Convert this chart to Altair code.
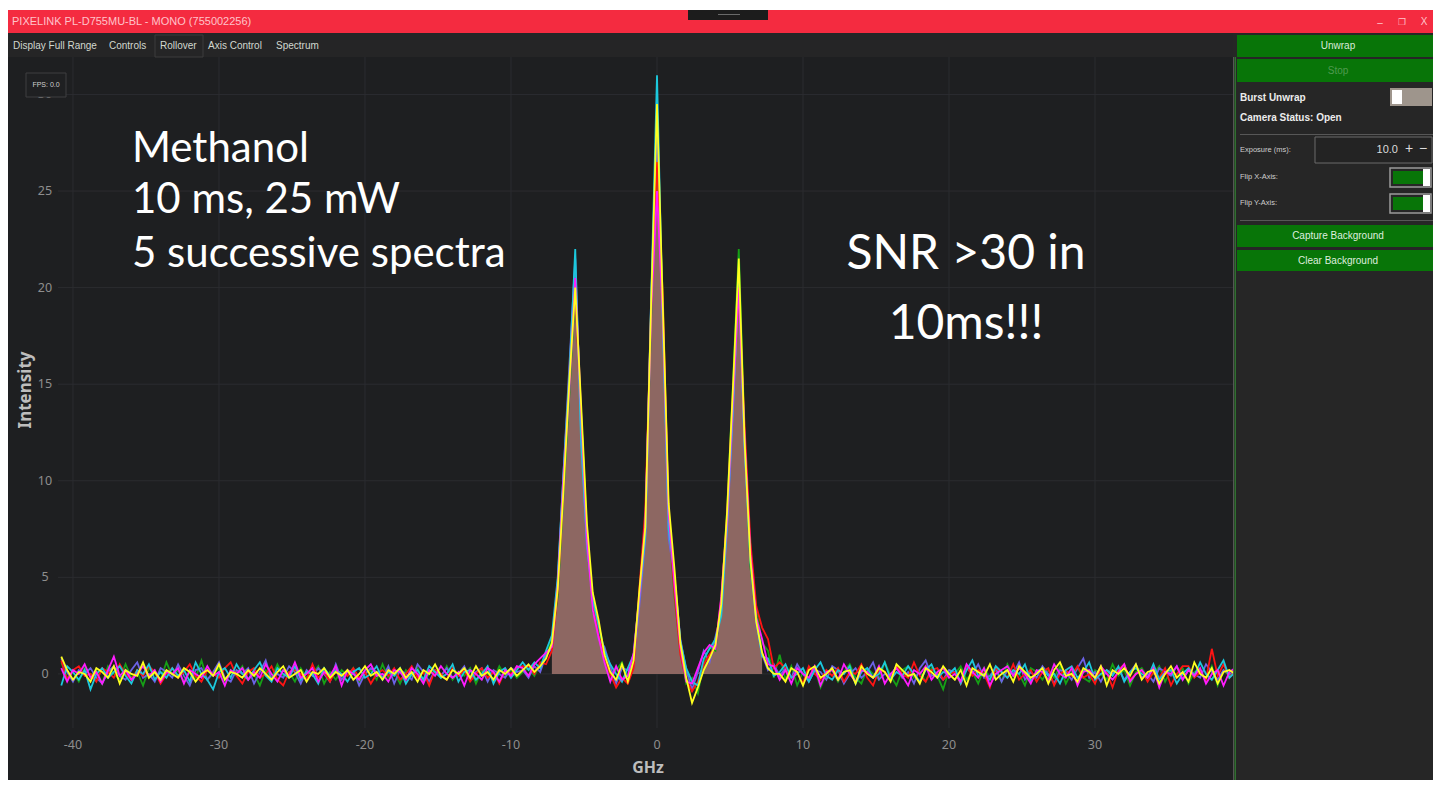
import altair as alt
import pandas as pd

# ---------------- data ----------------
GHZ = [
    -40.8, -40.4, -40.0, -39.6, -39.2, -38.8, -38.4, -38.0, -37.6, -37.2,
    -36.8, -36.4, -36.0, -35.6, -35.2, -34.8, -34.4, -34.0, -33.6, -33.2,
    -32.8, -32.4, -32.0, -31.6, -31.2, -30.8, -30.4, -30.0, -29.6, -29.2,
    -28.8, -28.4, -28.0, -27.6, -27.2, -26.8, -26.4, -26.0, -25.6, -25.2,
    -24.8, -24.4, -24.0, -23.6, -23.2, -22.8, -22.4, -22.0, -21.6, -21.2,
    -20.8, -20.4, -20.0, -19.6, -19.2, -18.8, -18.4, -18.0, -17.6, -17.2,
    -16.8, -16.4, -16.0, -15.6, -15.2, -14.8, -14.4, -14.0, -13.6, -13.2,
    -12.8, -12.4, -12.0, -11.6, -11.2, -10.8, -10.4, -10.0, -9.6, -9.2,
    -8.8, -8.4, -8.0, -7.6, -7.2, -6.8, -6.4, -6.0, -5.6, -5.2,
    -4.8, -4.4, -4.0, -3.6, -3.2, -2.8, -2.4, -2.0, -1.6, -1.2,
    -0.8, -0.4, 0.0, 0.4, 0.8, 1.2, 1.6, 2.0, 2.4, 2.8,
    3.2, 3.6, 4.0, 4.4, 4.8, 5.2, 5.6, 6.0, 6.4, 6.8,
    7.2, 7.6, 8.0, 8.4, 8.8, 9.2, 9.6, 10.0, 10.4, 10.8,
    11.2, 11.6, 12.0, 12.4, 12.8, 13.2, 13.6, 14.0, 14.4, 14.8,
    15.2, 15.6, 16.0, 16.4, 16.8, 17.2, 17.6, 18.0, 18.4, 18.8,
    19.2, 19.6, 20.0, 20.4, 20.8, 21.2, 21.6, 22.0, 22.4, 22.8,
    23.2, 23.6, 24.0, 24.4, 24.8, 25.2, 25.6, 26.0, 26.4, 26.8,
    27.2, 27.6, 28.0, 28.4, 28.8, 29.2, 29.6, 30.0, 30.4, 30.8,
    31.2, 31.6, 32.0, 32.4, 32.8, 33.2, 33.6, 34.0, 34.4, 34.8,
    35.2, 35.6, 36.0, 36.4, 36.8, 37.2, 37.6, 38.0, 38.4, 38.8,
    39.2, 39.6,
]

# green spectrum
GREEN_LEFT = [
    0.6, -0.2, 0.1, -0.4, 0.3, -0.1, 0.2, -0.5, 0.4, 0.0,
    -0.3, 0.5, -0.2, 0.1, -0.6, 0.3, 0.0, -0.3, 0.6, -0.1,
    0.2, -0.4, 0.1, -0.2, 0.7, -0.3, 0.0, 0.3, -0.5, 0.2,
    -0.1, 0.4, -0.3, 0.0, -0.6, 0.2, -0.2, 0.5, -0.1, 0.1,
    -0.4, 0.3, -0.2, 0.0, 0.4, -0.5, 0.1, -0.3, 0.2, -0.1,
    0.3, -0.4, 0.0, 0.2, -0.3, 0.5, -0.2, 0.1, -0.5, 0.2,
    -0.1, 0.3, -0.4, 0.0, 0.2, -0.2, 0.4, -0.3, 0.1, -0.1,
    0.3, -0.5, 0.2, 0.0, -0.3, 0.4, -0.1, 0.2, -0.2, 0.1,
]
GREEN_PEAK = [
    0.3, -0.1, 0.5, 0.9, 1.8, 4.0, 9.5, 14.5, 20.0, 13.5,
    7.5, 3.2, 2.6, 0.7, -0.3, 0.2, 0.6, -0.2, 0.9, 4.2,
    8.0, 18.5, 27.0, 19.5, 8.0, 4.0, 1.2, -0.5, -0.2, -1.0,
    0.6, 1.4, 1.2, 3.8, 8.5, 15.0, 22.0, 12.5, 5.5, 3.3,
    1.6, 1.2, -0.2,
]
GREEN_RIGHT = [
    1.0, -0.3, 0.4, -0.6, 0.1, -0.2, 0.3, -0.7, 0.0, 0.2,
    -0.4, 0.1, 0.5, -0.2, -0.5, 0.3, 0.0, -0.3, 0.6, -0.1,
    -0.6, 0.2, 0.4, -0.2, 0.1, -0.4, 0.3, -0.1, -0.8, 0.2,
    0.0, 0.4, -0.3, 0.1, -0.5, 0.3, -0.2, 0.2, -0.4, 0.5,
    -0.1, 0.0, -0.6, 0.3, 0.1, -0.3, 0.2, -0.2, 0.4, -0.5,
    0.1, 0.3, -0.2, -0.4, 0.2, 0.0, -0.3, 0.5, -0.1, 0.2,
    -0.6, 0.1, 0.3, -0.2, 0.0, 0.4, -0.4, 0.2, -0.1, 0.3,
    -0.5, 0.1, 0.2, -0.3, 0.4, -0.6, 0.2, -0.1, 0.1,
]

# blue-violet spectrum
BLUE_LEFT = [
    0.8, 0.1, -0.4, 0.2, 0.0, 0.3, -0.2, -0.5, 0.1, 0.4,
    -0.1, -0.3, 0.2, 0.6, -0.2, 0.0, -0.4, 0.3, 0.1, -0.2,
    0.5, -0.1, -0.6, 0.2, 0.3, -0.3, 0.1, 0.6, -0.2, -0.4,
    0.2, 0.0, 0.3, -0.5, 0.1, 0.7, -0.3, 0.0, -0.2, 0.4,
    0.1, -0.5, 0.2, -0.1, 0.3, 0.0, -0.4, 0.5, -0.3, 0.1,
    0.2, -0.6, 0.0, 0.3, 0.1, -0.2, 0.4, -0.5, 0.2, 0.0,
    -0.3, 0.5, 0.1, -0.4, 0.2, -0.1, 0.3, -0.2, 0.0, 0.4,
    -0.3, 0.1, 0.3, -0.4, 0.2, 0.0, -0.2, 0.3, 0.1, 0.2,
]
BLUE_PEAK = [
    -0.2, 0.4, 0.1, 1.0, 1.3, 4.8, 10.5, 16.0, 21.5, 12.5,
    6.5, 4.0, 1.8, 1.4, 0.4, -0.5, 0.3, 0.2, 0.5, 3.6,
    7.0, 19.5, 28.0, 18.5, 7.0, 5.0, 1.8, 0.2, -0.8, 0.1,
    1.2, 0.6, 1.9, 3.2, 7.5, 13.5, 20.5, 11.5, 6.5, 2.6,
    1.0, 0.2, 0.5,
]
BLUE_RIGHT = [
    -0.1, 0.3, -0.2, 0.5, 0.0, -0.4, 0.2, 0.1, -0.3, 0.4,
    0.2, -0.5, 0.0, 0.3, -0.2, 0.1, 0.6, -0.3, 0.0, -0.1,
    0.4, -0.2, 0.1, -0.5, 0.3, 0.7, -0.1, 0.0, -0.3, 0.2,
    0.1, -0.4, 0.3, 0.0, 0.5, -0.2, -0.1, 0.3, -0.4, 0.2,
    0.0, 0.6, -0.3, 0.1, -0.2, 0.4, 0.0, -0.5, 0.2, 0.1,
    -0.3, 0.3, 0.8, -0.2, 0.1, -0.4, 0.2, 0.0, 0.3, -0.3,
    0.1, 0.5, -0.2, 0.0, -0.4, 0.3, 0.1, -0.1, 0.4, -0.3,
    0.2, 0.0, -0.2, 0.5, 0.1, -0.3, 0.2, 0.0, 0.1,
]

# red spectrum
RED_LEFT = [
    0.7, -0.3, 0.2, 0.4, -0.1, 0.0, -0.4, 0.3, 0.1, -0.2,
    0.5, 0.0, -0.3, 0.2, -0.1, 0.4, 0.1, -0.5, 0.0, 0.3,
    -0.2, 0.1, 0.5, -0.1, -0.4, 0.2, 0.0, -0.2, 0.3, 0.6,
    -0.1, -0.5, 0.1, 0.3, -0.2, 0.0, 0.4, -0.3, -0.6, 0.1,
    0.2, 0.0, -0.3, 0.5, -0.2, 0.1, -0.4, 0.2, 0.0, -0.1,
    0.3, -0.2, 0.1, -0.5, 0.0, 0.2, -0.1, 0.3, -0.3, 0.0,
    0.4, -0.2, 0.1, -0.6, 0.2, 0.0, -0.3, 0.3, -0.1, 0.2,
    -0.4, 0.0, 0.3, -0.2, 0.1, -0.5, 0.2, 0.0, 0.3, 0.4,
]
RED_PEAK = [
    0.4, 0.0, 0.6, 0.5, 1.2, 4.3, 9.8, 15.5, 20.0, 13.0,
    7.2, 3.6, 2.0, 0.9, 0.0, -0.7, -0.2, -0.5, 0.3, 4.5,
    8.5, 19.0, 26.5, 19.5, 8.0, 4.2, 1.0, -0.3, -0.9, -0.4,
    0.5, 1.0, 1.4, 3.9, 8.2, 14.5, 20.0, 12.8, 6.8, 3.5,
    2.4, 1.8, 0.3,
]
RED_RIGHT = [
    0.6, 0.3, -0.2, 0.1, -0.5, 0.4, 0.0, -0.3, 0.2, -0.1,
    0.3, -0.4, 0.1, 0.0, 0.5, -0.2, -0.6, 0.2, 0.1, -0.3,
    0.4, 0.0, -0.2, 0.6, -0.1, -0.4, 0.2, 0.3, -0.3, 0.0,
    0.1, -0.5, 0.4, -0.1, 0.2, 0.0, -0.7, 0.3, 0.1, -0.2,
    0.5, -0.3, 0.0, 0.2, -0.4, 0.1, 0.3, -0.6, 0.0, 0.2,
    -0.1, 0.4, -0.2, 0.0, -0.5, 0.3, 0.1, -0.7, 0.2, 0.5,
    -0.3, 0.0, 0.2, -0.4, 0.1, -0.2, 0.3, -0.6, 0.0, 0.4,
    0.4, -0.2, 0.1, -0.3, 1.3, -0.1, 0.5, -0.2, 0.2,
]

# cyan spectrum
CYAN_LEFT = [
    -0.6, 0.4, 0.1, -0.3, 0.2, -0.8, 0.0, 0.3, -0.2, 0.1,
    0.4, -0.1, -0.5, 0.2, 0.0, 0.5, -0.3, 0.1, -0.2, 0.3,
    -0.1, 0.2, -0.4, 0.6, 0.0, -0.3, -0.8, 0.1, 0.3, -0.2,
    0.5, 0.0, -0.3, 0.2, 0.6, -0.1, -0.4, 0.3, 0.0, -0.2,
    0.4, -0.3, 0.1, 0.0, -0.5, 0.3, -0.1, 0.2, 0.0, -0.4,
    0.1, 0.3, -0.2, 0.0, 0.4, -0.3, 0.1, -0.1, 0.3, -0.5,
    0.0, 0.2, -0.3, 0.4, 0.1, -0.2, 0.0, 0.5, -0.4, 0.1,
    0.2, -0.3, 0.0, 0.4, -0.5, 0.1, 0.3, -0.2, 0.2, 0.6,
]
CYAN_PEAK = [
    0.2, 0.6, 0.3, 1.2, 2.0, 5.0, 10.5, 15.5, 22.0, 12.0,
    6.8, 3.8, 2.5, 1.2, 0.5, 0.0, -0.4, 0.3, 1.0, 4.0,
    7.2, 19.5, 31.0, 18.0, 7.5, 5.0, 1.7, 0.3, -0.4, -0.6,
    0.8, 1.3, 1.8, 3.0, 7.8, 13.8, 20.5, 11.8, 5.8, 2.8,
    0.9, 0.8, -0.1,
]
CYAN_RIGHT = [
    0.1, 0.5, -0.2, 0.0, 0.3, -0.4, 0.2, 0.6, -0.1, -0.3,
    0.2, 0.0, 0.4, -0.5, 0.1, 0.3, -0.2, 0.0, 0.6, -0.3,
    0.1, -0.1, 0.4, 0.0, -0.4, 0.2, 0.5, -0.2, 0.1, 0.0,
    0.3, -0.5, 0.2, 0.7, -0.1, 0.0, -0.3, 0.4, 0.1, -0.2,
    0.2, 0.0, 0.5, -0.4, 0.1, 0.3, -0.1, 0.0, -0.5, 0.2,
    0.4, -0.2, 0.1, 0.6, -0.3, 0.0, 0.2, -0.1, 0.4, -0.4,
    0.1, 0.3, 0.0, -0.2, 0.5, -0.3, 0.1, 0.2, -0.5, 0.0,
    0.3, -0.1, 0.6, 0.0, -0.3, 0.2, 0.7, -0.2, 0.1,
]

# magenta spectrum
MAGENTA_LEFT = [
    0.3, -0.4, 0.2, 0.0, 0.5, -0.2, 0.1, -0.5, 0.2, 0.9,
    -0.1, 0.2, -0.3, 0.0, 0.4, -0.1, 0.2, -0.4, 0.1, 0.0,
    0.3, -0.5, 0.2, 0.0, -0.2, 0.4, -0.1, 0.1, -0.6, 0.2,
    0.0, 0.3, -0.3, 0.1, -0.2, 0.5, 0.0, -0.4, 0.2, -0.1,
    0.6, -0.2, 0.0, 0.3, -0.4, 0.1, -0.1, 0.4, -0.6, 0.2,
    0.0, -0.3, 0.2, 0.5, -0.1, 0.0, -0.4, 0.2, 0.1, -0.3,
    0.3, 0.0, -0.5, 0.2, -0.1, 0.4, 0.0, -0.2, 0.1, -0.6,
    0.2, 0.0, -0.3, 0.3, 0.1, -0.4, 0.2, -0.1, 0.4, 0.3,
]
MAGENTA_PEAK = [
    -0.1, 0.5, 0.8, 1.1, 1.4, 4.6, 10.2, 14.8, 20.5, 13.6,
    7.0, 3.3, 1.9, 0.6, -0.4, 0.4, -0.3, -0.1, 1.1, 4.1,
    7.8, 18.8, 25.0, 18.5, 8.3, 4.6, 1.4, -0.4, -0.5, 0.3,
    1.1, 1.5, 1.3, 4.0, 8.0, 14.2, 20.0, 12.2, 6.2, 2.9,
    1.8, 0.5, 0.4,
]
MAGENTA_RIGHT = [
    -0.3, 0.2, -0.5, 0.3, 0.0, -0.2, 0.4, -0.6, 0.1, 0.2,
    -0.3, 0.5, 0.0, -0.4, 0.2, 0.1, -0.2, 0.4, -0.5, 0.0,
    0.3, -0.1, -0.6, 0.2, 0.0, 0.4, -0.3, 0.1, 0.3, -0.2,
    0.0, -0.4, 0.5, 0.1, -0.2, 0.3, -0.6, 0.0, 0.2, 0.4,
    -0.1, 0.3, 0.0, -0.5, 0.2, 0.1, -0.3, 0.5, 0.0, -0.2,
    0.3, -0.6, 0.1, 0.2, -0.2, 0.4, 0.0, -0.3, 0.1, 0.5,
    -0.4, 0.0, 0.2, -0.2, 0.3, -0.7, 0.1, 0.0, 0.4, -0.3,
    0.2, -0.1, 0.3, -0.5, 0.0, 0.2, -0.6, 0.1, 0.3,
]

# yellow spectrum
YELLOW_LEFT = [
    0.9, 0.2, -0.3, 0.1, 0.0, -0.4, 0.3, 0.1, -0.2, 0.4,
    -0.5, 0.2, 0.0, -0.1, 0.6, -0.2, 0.1, -0.3, 0.2, 0.0,
    -0.2, 0.3, 0.1, -0.4, 0.0, 0.2, -0.1, 0.5, -0.3, 0.1,
    0.0, -0.2, 0.2, -0.1, 0.3, 0.0, -0.3, 0.1, 0.4, -0.2,
    0.0, 0.2, -0.4, 0.1, 0.0, 0.3, -0.2, 0.1, -0.1, 0.2,
    -0.3, 0.0, 0.4, -0.1, 0.1, -0.3, 0.2, 0.0, 0.3, -0.2,
    0.1, -0.4, 0.2, 0.0, 0.5, -0.1, -0.3, 0.2, 0.0, 0.3,
    -0.2, 0.4, -0.1, 0.1, -0.3, 0.2, 0.0, 0.3, -0.1, 0.2,
]
YELLOW_PEAK = [
    0.5, 0.1, 0.4, 0.8, 1.6, 4.4, 9.6, 15.2, 20.0, 14.0,
    7.8, 4.2, 2.8, 1.0, 0.1, -0.3, 0.5, -0.4, 0.7, 4.4,
    7.6, 19.2, 29.5, 19.0, 8.8, 5.4, 1.6, -0.2, -1.5, -0.7,
    0.2, 0.8, 1.5, 3.6, 8.4, 14.8, 21.5, 12.0, 5.9, 2.7,
    1.1, 0.3, 0.0,
]
YELLOW_RIGHT = [
    0.0, -0.4, 0.3, 0.1, -0.6, 0.2, 0.4, -0.2, 0.0, 0.3,
    -0.3, 0.1, 0.2, -0.5, 0.4, 0.0, -0.2, 0.3, 0.1, -0.4,
    0.5, 0.2, -0.1, 0.0, -0.5, 0.3, 0.1, -0.2, 0.4, 0.0,
    -0.3, 0.2, -0.6, 0.3, 0.1, -0.1, 0.5, -0.3, 0.0, 0.2,
    -0.4, 0.4, 0.1, -0.2, 0.0, 0.3, -0.5, 0.2, 0.6, -0.1,
    0.0, -0.4, 0.3, 0.1, -0.2, 0.4, -0.6, 0.2, 0.0, 0.3,
    -0.1, 0.5, -0.3, 0.1, 0.2, -0.5, 0.0, 0.4, -0.2, 0.1,
    -0.4, 0.6, 0.0, -0.2, 0.3, -0.5, 0.1, 0.2, 0.0,
]

# shaded peak area
FILL_GHZ = [
    -7.2, -6.8, -6.4, -6.0, -5.6, -5.2, -4.8, -4.4, -4.0,
    -3.6, -3.2, -2.8, -2.4, -2.0, -1.6, -1.2, -0.8, -0.4,
    0.0,
    0.4, 0.8, 1.2, 1.6, 2.0, 2.4, 2.8, 3.2, 3.6,
    4.0, 4.4, 4.8, 5.2, 5.6, 6.0, 6.4, 6.8, 7.2,
]
FILL_INTENSITY = [
    1.5, 4.3, 9.8, 14.8, 20.0, 12.8, 6.9, 3.5, 2.1,
    0.8, 0.1, 0.0, 0.0, 0.0, 0.5, 3.9, 7.4, 18.6,
    27.0,
    18.6, 7.6, 4.4, 1.4, 0.0, 0.0, 0.0, 0.4, 0.9,
    1.5, 3.4, 7.9, 14.2, 20.0, 12.0, 6.0, 2.9, 1.2,
]

X_TICKS = [-40, -30, -20, -10, 0, 10, 20, 30]
Y_TICKS = [0, 5, 10, 15, 20, 25, 30]

SERIES = [
    ("green", "#16a016", GREEN_LEFT + GREEN_PEAK + GREEN_RIGHT),
    ("blue", "#6c62e6", BLUE_LEFT + BLUE_PEAK + BLUE_RIGHT),
    ("red", "#ff1414", RED_LEFT + RED_PEAK + RED_RIGHT),
    ("cyan", "#1cc8dc", CYAN_LEFT + CYAN_PEAK + CYAN_RIGHT),
    ("magenta", "#ff1cff", MAGENTA_LEFT + MAGENTA_PEAK + MAGENTA_RIGHT),
    ("yellow", "#ffff1e", YELLOW_LEFT + YELLOW_PEAK + YELLOW_RIGHT),
]
for name, _, vals in SERIES:
    if len(vals) != len(GHZ):
        raise ValueError(f"{name}: {len(vals)} values for {len(GHZ)} positions")
if len(FILL_GHZ) != len(FILL_INTENSITY):
    raise ValueError("fill lengths differ")

# ---------------- scales (pixel ranges inside the window picture) ----------------
XS = alt.Scale(domain=[-40.8, 39.45], range=[53.3, 1225], nice=False, zero=False)
YS = alt.Scale(domain=[-2.8, 31.94], range=[720, 49], nice=False, zero=False)

ONE = pd.DataFrame({"k": [0]})


def box(x, y, x2, y2, fill, stroke=None, sw=1.0, hollow=False):
    kw = {"fill": fill}
    if hollow:
        kw["fillOpacity"] = 0
    if stroke:
        kw["stroke"] = stroke
        kw["strokeWidth"] = sw
    return alt.Chart(ONE).mark_rect(**kw).encode(
        x=alt.value(x), x2=alt.value(x2), y=alt.value(y), y2=alt.value(y2)
    )


def label(s, x, y, size, color, align="left", weight="normal",
          font="Liberation Sans", baseline="middle", angle=0):
    return alt.Chart(ONE).mark_text(
        text=s, fontSize=size, color=color, align=align, fontWeight=weight,
        font=font, baseline=baseline, angle=angle,
    ).encode(x=alt.value(x), y=alt.value(y))


layers = []

# grid
layers.append(
    alt.Chart(pd.DataFrame({"v": X_TICKS})).mark_rule(color="#2b2c30", strokeWidth=1).encode(
        x=alt.X("v:Q", scale=XS, axis=None), y=alt.value(49), y2=alt.value(720))
)
layers.append(
    alt.Chart(pd.DataFrame({"v": Y_TICKS})).mark_rule(color="#2b2c30", strokeWidth=1).encode(
        y=alt.Y("v:Q", scale=YS, axis=None), x=alt.value(50), x2=alt.value(1225))
)

# shaded area under peaks
fill_df = pd.DataFrame({"x": FILL_GHZ, "y": FILL_INTENSITY, "base": [0.0] * len(FILL_GHZ)})
layers.append(
    alt.Chart(fill_df).mark_area(color="#8d6762", opacity=1, interpolate="linear").encode(
        x=alt.X("x:Q", scale=XS, axis=None),
        y=alt.Y("y:Q", scale=YS, axis=None),
        y2="base:Q",
    )
)

# spectra
for name, col, vals in SERIES:
    df = pd.DataFrame({"x": GHZ, "y": vals, "k": list(range(len(GHZ)))})
    layers.append(
        alt.Chart(df).mark_line(color=col, strokeWidth=1.8, interpolate="linear").encode(
            x=alt.X("x:Q", scale=XS, axis=None),
            y=alt.Y("y:Q", scale=YS, axis=None),
            order="k:Q",
        )
    )

# tick labels
layers.append(
    alt.Chart(pd.DataFrame({"v": X_TICKS, "t": [str(v) for v in X_TICKS]})).mark_text(
        fontSize=12.5, color="#8e8e8e", font="Noto Sans", baseline="middle", align="center"
    ).encode(x=alt.X("v:Q", scale=XS, axis=None), y=alt.value(737), text="t:N")
)
layers.append(
    alt.Chart(pd.DataFrame({"v": Y_TICKS, "t": [str(v) for v in Y_TICKS]})).mark_text(
        fontSize=12.5, color="#8e8e8e", font="Noto Sans", baseline="middle", align="center"
    ).encode(y=alt.Y("v:Q", scale=YS, axis=None), x=alt.value(37), text="t:N")
)

# axis titles
layers.append(label("Intensity", 18, 382, 17, "#bdbdbd", align="center", weight="bold",
                    font="Noto Sans", angle=270))
layers.append(label("GHz", 640, 760, 16, "#bdbdbd", align="center", weight="bold", font="Noto Sans"))

# annotations
for txt, yb in [("Methanol", 154), ("10 ms, 25 mW", 205), ("5 successive spectra", 259)]:
    layers.append(label(txt, 124, yb, 42, "#ffffff", font="Lato", baseline="alphabetic"))
layers.append(label("SNR >30 in", 958, 261, 48, "#ffffff", align="center", font="Lato",
                    baseline="alphabetic"))
layers.append(label("10ms!!!", 958, 331, 48, "#ffffff", align="center", font="Lato",
                    baseline="alphabetic"))

# FPS box
layers.append(box(18, 65, 58, 89, "#1f2022", stroke="#3e3e40", sw=1))
layers.append(label("FPS: 0.0", 38, 77, 7, "#cfcfcf", align="center"))

# title bar
layers.append(box(0, 0, 1425, 2, "#ffffff"))
layers.append(box(0, 2, 1425, 25, "#f42b40"))
layers.append(box(680, 2, 760, 12, "#1c1c1c"))
layers.append(box(710, 6, 732, 7, "#6a6a6a"))
layers.append(label("PIXELINK PL-D755MU-BL - MONO (755002256)", 4, 14, 11, "#ffc3ca"))
layers.append(label("\u2013", 1372, 15, 10, "#ffc3ca", align="center"))
layers.append(label("\u2750", 1394, 14, 9, "#ffc3ca", align="center", font="DejaVu Sans"))
layers.append(label("X", 1416, 14, 10, "#ffc3ca", align="center"))

# toolbar
layers.append(box(0, 25, 1225, 49, "#252526"))
layers.append(box(147, 27, 195, 49, "#252526", stroke="#3c3c3c", sw=1, hollow=True))
for txt, xx in [("Display Full Range", 5), ("Controls", 101), ("Rollover", 152),
                ("Axis Control", 200), ("Spectrum", 268)]:
    layers.append(label(txt, xx, 38, 10, "#d2d8cf"))

# right control panel
layers.append(box(1225, 25, 1425, 773, "#262626"))
layers.append(box(1225, 49, 1226, 773, "#555555"))
layers.append(box(1226.5, 49, 1228, 773, "#2f6f2f"))
layers.append(box(1229, 27, 1425, 49, "#087508"))
layers.append(label("Unwrap", 1330, 38, 10, "#d9ead9", align="center"))
layers.append(box(1229, 51, 1425, 74, "#087508"))
layers.append(label("Stop", 1330, 63, 10, "#4f9a4f", align="center"))
layers.append(label("Burst Unwrap", 1232, 90, 10, "#ececec", weight="bold"))
layers.append(box(1382, 80, 1424, 98, "#9e958c"))
layers.append(box(1384, 82, 1394, 96, "#ffffff"))
layers.append(label("Camera Status:  Open", 1232, 110, 10, "#ececec", weight="bold"))
layers.append(box(1232, 126, 1425, 127, "#575757"))
layers.append(label("Exposure (ms):", 1232, 142, 7.5, "#cfcfcf"))
layers.append(box(1307, 129, 1424, 155, "#232323", stroke="#6a6a6a", sw=1))
layers.append(label("10.0", 1390, 142, 11, "#dcdcdc", align="right"))
layers.append(label("+", 1401, 141, 14, "#dcdcdc", align="center"))
layers.append(label("\u2212", 1415, 141, 14, "#dcdcdc", align="center"))
for txt, yy in [("Flip X-Axis:", 169), ("Flip Y-Axis:", 195)]:
    layers.append(label(txt, 1232, yy, 7.5, "#cfcfcf"))
    layers.append(box(1382, yy - 9, 1423, yy + 10, "#262626", stroke="#9a9a9a", sw=1.5))
    layers.append(box(1385, yy - 6, 1415, yy + 7, "#087508"))
    layers.append(box(1415, yy - 8, 1422, yy + 9, "#ffffff"))
layers.append(box(1232, 212, 1425, 213, "#575757"))
layers.append(box(1229, 217, 1425, 239, "#087508"))
layers.append(label("Capture Background", 1330, 228, 10, "#dfeedf", align="center"))
layers.append(box(1229, 242, 1425, 263, "#087508"))
layers.append(label("Clear Background", 1330, 253, 10, "#dfeedf", align="center"))

chart = alt.layer(*layers).properties(
    width=1425,
    height=772,
    padding=0,
    autosize=alt.AutoSizeParams(type="none"),
    background="#1e1f21",
).configure_view(stroke=None)

chart.save("out.html", embed_options={"renderer": "svg", "actions": False})
